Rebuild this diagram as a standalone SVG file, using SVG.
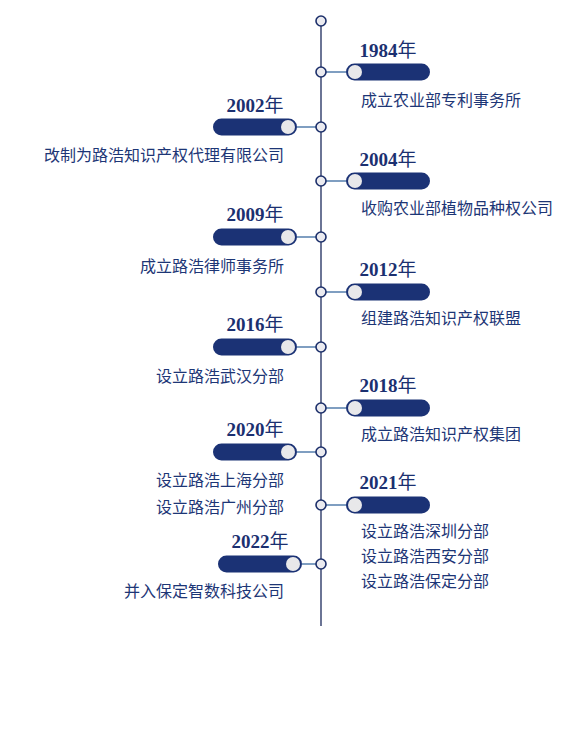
<svg xmlns="http://www.w3.org/2000/svg" width="567" height="732" viewBox="0 0 567 732">
<style>
.axis{stroke:#1c2a5c;stroke-width:1.3}
.conn{stroke:#3a6aa0;stroke-width:1.3}
.dot{fill:#ebebf0;stroke:#1c2f6a;stroke-width:1.6}
.bar{fill:#1b3275}
.knob{fill:#e8e8ea}
.yr{font-family:"Liberation Serif","Noto Sans CJK SC",serif;font-weight:bold;font-size:19px;fill:#1b3070;text-anchor:middle}
.yr tspan{font-weight:normal;font-family:"Noto Sans CJK SC",sans-serif}
.d{font-family:"Noto Sans CJK SC",sans-serif;font-size:16px;fill:#1d3676}
.r{text-anchor:start}
.l{text-anchor:end}
</style>
<rect width="567" height="732" fill="#ffffff"/>
<g id="connectors">
<line class="axis" x1="321" y1="21" x2="321" y2="626"/>
<line class="conn" x1="321" y1="72" x2="346" y2="72"/>
<line class="conn" x1="297" y1="127" x2="321" y2="127"/>
<line class="conn" x1="321" y1="181" x2="346" y2="181"/>
<line class="conn" x1="297" y1="237" x2="321" y2="237"/>
<line class="conn" x1="321" y1="292" x2="346" y2="292"/>
<line class="conn" x1="297" y1="347" x2="321" y2="347"/>
<line class="conn" x1="321" y1="408" x2="346" y2="408"/>
<line class="conn" x1="297" y1="452" x2="321" y2="452"/>
<line class="conn" x1="321" y1="505" x2="346" y2="505"/>
<line class="conn" x1="302" y1="564" x2="321" y2="564"/>
</g>
<g id="top"><circle class="dot" cx="321" cy="21" r="5"/></g>
<g id="n1984">
<circle class="dot" cx="321" cy="72" r="5"/>
<rect class="bar" x="346" y="63.5" width="84" height="17" rx="8.5"/>
<circle class="knob" cx="355" cy="72" r="7"/>
<text class="yr" x="388" y="57">1984<tspan>年</tspan></text>
<text class="d r" x="361" y="106">成立农业部专利事务所</text>
</g>
<g id="n2002">
<circle class="dot" cx="321" cy="127" r="5"/>
<rect class="bar" x="213" y="118.5" width="84" height="17" rx="8.5"/>
<circle class="knob" cx="288" cy="127" r="7"/>
<text class="yr" x="255" y="112">2002<tspan>年</tspan></text>
<text class="d l" x="284" y="161">改制为路浩知识产权代理有限公司</text>
</g>
<g id="n2004">
<circle class="dot" cx="321" cy="181" r="5"/>
<rect class="bar" x="346" y="172.5" width="84" height="17" rx="8.5"/>
<circle class="knob" cx="355" cy="181" r="7"/>
<text class="yr" x="388" y="166">2004<tspan>年</tspan></text>
<text class="d r" x="361" y="214">收购农业部植物品种权公司</text>
</g>
<g id="n2009">
<circle class="dot" cx="321" cy="237" r="5"/>
<rect class="bar" x="213" y="228.5" width="84" height="17" rx="8.5"/>
<circle class="knob" cx="288" cy="237" r="7"/>
<text class="yr" x="255" y="221">2009<tspan>年</tspan></text>
<text class="d l" x="284" y="272">成立路浩律师事务所</text>
</g>
<g id="n2012">
<circle class="dot" cx="321" cy="292" r="5"/>
<rect class="bar" x="346" y="283.5" width="84" height="17" rx="8.5"/>
<circle class="knob" cx="355" cy="292" r="7"/>
<text class="yr" x="388" y="276">2012<tspan>年</tspan></text>
<text class="d r" x="361" y="324">组建路浩知识产权联盟</text>
</g>
<g id="n2016">
<circle class="dot" cx="321" cy="347" r="5"/>
<rect class="bar" x="213" y="338.5" width="84" height="17" rx="8.5"/>
<circle class="knob" cx="288" cy="347" r="7"/>
<text class="yr" x="255" y="331">2016<tspan>年</tspan></text>
<text class="d l" x="284" y="382">设立路浩武汉分部</text>
</g>
<g id="n2018">
<circle class="dot" cx="321" cy="408" r="5"/>
<rect class="bar" x="346" y="399.5" width="84" height="17" rx="8.5"/>
<circle class="knob" cx="355" cy="408" r="7"/>
<text class="yr" x="388" y="392">2018<tspan>年</tspan></text>
<text class="d r" x="361" y="440">成立路浩知识产权集团</text>
</g>
<g id="n2020">
<circle class="dot" cx="321" cy="452" r="5"/>
<rect class="bar" x="213" y="443.5" width="84" height="17" rx="8.5"/>
<circle class="knob" cx="288" cy="452" r="7"/>
<text class="yr" x="255" y="436">2020<tspan>年</tspan></text>
<text class="d l" x="284" y="486">设立路浩上海分部</text>
<text class="d l" x="284" y="513">设立路浩广州分部</text>
</g>
<g id="n2021">
<circle class="dot" cx="321" cy="505" r="5"/>
<rect class="bar" x="346" y="496.5" width="84" height="17" rx="8.5"/>
<circle class="knob" cx="355" cy="505" r="7"/>
<text class="yr" x="388" y="489">2021<tspan>年</tspan></text>
<text class="d r" x="361" y="537">设立路浩深圳分部</text>
<text class="d r" x="361" y="562">设立路浩西安分部</text>
<text class="d r" x="361" y="587">设立路浩保定分部</text>
</g>
<g id="n2022">
<circle class="dot" cx="321" cy="564" r="5"/>
<rect class="bar" x="218" y="555.5" width="84" height="17" rx="8.5"/>
<circle class="knob" cx="293" cy="564" r="7"/>
<text class="yr" x="260" y="548">2022<tspan>年</tspan></text>
<text class="d l" x="284" y="597">并入保定智数科技公司</text>
</g>
</svg>
